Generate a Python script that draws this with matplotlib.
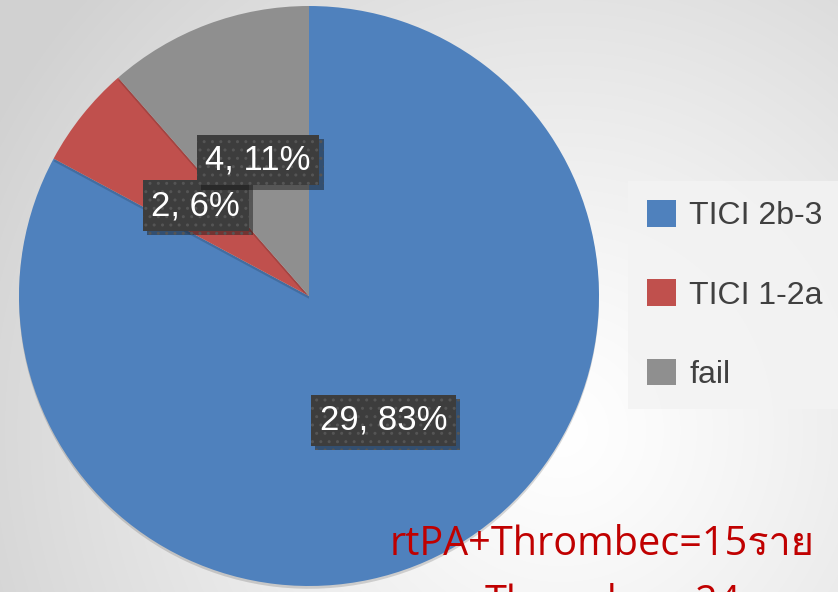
import numpy as np
import matplotlib
matplotlib.use("Agg")
import matplotlib.pyplot as plt
import matplotlib.patheffects as pe
from matplotlib.patches import Patch
from matplotlib import font_manager
from matplotlib.ft2font import FT2Font

categories = ["TICI 2b-3", "TICI 1-2a", "fail"]
counts = [29, 2, 4]
colors = ["#4F81BD", "#C0504D", "#8F8F8F"]
note_lines = ["rtPA+Thrombec=15ราย", "Thrombec=24ราย"]

W, H = 838, 592
fig = plt.figure(figsize=(W / 100, H / 100), dpi=100)

# background radial gradient
bg = fig.add_axes([0, 0, 1, 1])
yy, xx = np.mgrid[0:H, 0:W]
d = np.sqrt((xx - 560) ** 2 + (yy - 430) ** 2) / 650.0
d = np.clip(d, 0, 1)
val = 1.0 - 0.18 * d ** 1.2
img = np.dstack([val, val, val])
bg.imshow(img, extent=[0, W, H, 0], aspect="auto", interpolation="bilinear")
bg.set_xlim(0, W)
bg.set_ylim(H, 0)
bg.axis("off")

# pie
cx, cy, r = 309, 296, 290
ax = fig.add_axes([(cx - r) / W, (H - cy - r) / H, 2 * r / W, 2 * r / H])
total = sum(counts)


def fmt(p):
    n = int(round(p * total / 100.0))
    return f"{n}, {p:.0f}%"


wedges, texts, autotexts = ax.pie(
    counts, colors=colors, startangle=90, counterclock=False,
    autopct=fmt, pctdistance=0.5, radius=1.0,
    wedgeprops=dict(linewidth=0),
    textprops=dict(color="white", fontsize=25, family="Liberation Sans"),
)
for w in wedges:
    w.set_path_effects([pe.SimplePatchShadow(offset=(0, -2), alpha=0.15, shadow_rgbFace="black"), pe.Normal()])
for t in autotexts:
    t.set_bbox(dict(boxstyle="square,pad=0.25", fc="#3d3d3d", ec="#555555", lw=0, hatch=".."))
    bp = t.get_bbox_patch()
    bp.set_path_effects([pe.SimplePatchShadow(offset=(3, -3), alpha=0.45), pe.Normal()])
ax.set_xlim(-1, 1)
ax.set_ylim(-1, 1)

# legend
handles = [Patch(facecolor=c, edgecolor="none") for c in colors]
fig.legend(
    handles, categories, loc="upper left",
    bbox_to_anchor=(628 / W, 1 - 181 / H), borderaxespad=0,
    prop=dict(family="Liberation Sans", size=23), labelcolor="#404040",
    frameon=True, facecolor="#f3f3f3", edgecolor="none", framealpha=0.85,
    fancybox=False, handlelength=0.9, handleheight=0.9, handletextpad=0.42,
    labelspacing=1.5, borderpad=0.6,
)

# find a font with Thai glyphs
thai_fam = None
for f in font_manager.fontManager.ttflist:
    try:
        cmap = FT2Font(f.fname).get_charmap()
        if 0x0E23 in cmap:
            thai_fam = f.name
            break
    except Exception:
        pass
fams = ["Open Sans"] + ([thai_fam] if thai_fam else []) + ["DejaVu Sans"]

fig.text(390 / W, 1 - 555 / H, note_lines[0], color="#C00000", fontsize=28.5,
         family=fams, ha="left", va="baseline")
fig.text(485 / W, 1 - 614 / H, note_lines[1], color="#C00000", fontsize=28.5,
         family=fams, ha="left", va="baseline")

fig.savefig("out.png", dpi=100)
